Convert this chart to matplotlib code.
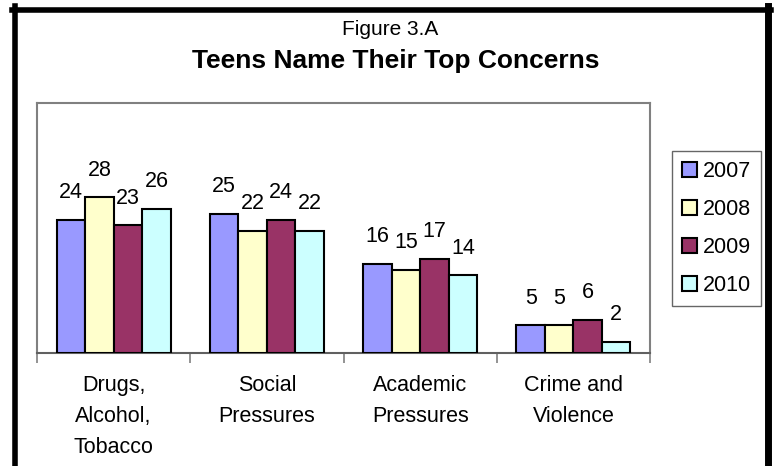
import numpy as np
import matplotlib
matplotlib.use('Agg')
import matplotlib.pyplot as plt
from matplotlib.lines import Line2D

# data
categories = ['Drugs,\nAlcohol,\nTobacco', 'Social\nPressures', 'Academic\nPressures', 'Crime and\nViolence']
years = ['2007', '2008', '2009', '2010']
values_2007 = [24, 25, 16, 5]
values_2008 = [28, 22, 15, 5]
values_2009 = [23, 24, 17, 6]
values_2010 = [26, 22, 14, 2]
colours = ['#9999FF', '#FFFFCC', '#993366', '#CCFFFF']

plt.rcParams['font.family'] = ['Liberation Sans', 'DejaVu Sans']

fig = plt.figure(figsize=(7.75, 4.66), dpi=100)
ax = fig.add_axes([37 / 775, 113 / 466, 613 / 775, 250 / 466])

series = [values_2007, values_2008, values_2009, values_2010]
x = np.arange(len(categories))
width = 0.186
for i, (vals, year, col) in enumerate(zip(series, years, colours)):
    bars = ax.bar(x + (i - 1.5) * width, vals, width, color=col, edgecolor='black',
                  linewidth=1.5, label=year, zorder=3)
    ax.bar_label(bars, padding=12, fontsize=15.5)

ax.set_xlim(-0.5, 3.5)
ax.set_ylim(0, 45)
ax.set_yticks([])
ax.set_xticks(x)
ax.set_xticklabels(categories, fontsize=15.5, linespacing=1.62)
ax.tick_params(axis='x', which='major', length=0, pad=16)
ax.set_xticks(np.arange(-0.5, 4, 1), minor=True)
ax.tick_params(axis='x', which='minor', length=7, width=1.2, color='#808080')

for side in ['top', 'right', 'left']:
    ax.spines[side].set_color('#808080')
    ax.spines[side].set_linewidth(1.5)
ax.spines['bottom'].set_color('#606060')
ax.spines['bottom'].set_linewidth(1.5)

leg = fig.legend(loc='upper left', bbox_to_anchor=(672 / 775, 315 / 466), borderaxespad=0,
                 fontsize=15.5, frameon=True, fancybox=False, edgecolor='#404040',
                 handlelength=0.7, handleheight=0.7, handletextpad=0.3,
                 labelspacing=0.8, borderpad=0.45)
leg.get_frame().set_linewidth(1.0)

fig.text(0.504, (466 - 35) / 466, 'Figure 3.A', ha='center', va='baseline', fontsize=15)
fig.text(0.51, (466 - 68) / 466, 'Teens Name Their Top Concerns', ha='center', va='baseline',
         fontsize=19, fontweight='bold')

# thick black frame around the figure (bottom edge is cut off in the original)
fig.add_artist(Line2D([14.5 / 775, 14.5 / 775], [0, 1 - 6 / 466], transform=fig.transFigure,
                      color='black', linewidth=4))
fig.add_artist(Line2D([767.5 / 775, 767.5 / 775], [0, 1 - 6 / 466], transform=fig.transFigure,
                      color='black', linewidth=5))
fig.add_artist(Line2D([12 / 775, 771 / 775], [1 - 9.5 / 466, 1 - 9.5 / 466], transform=fig.transFigure,
                      color='black', linewidth=4))

fig.savefig('out.png', dpi=100)
